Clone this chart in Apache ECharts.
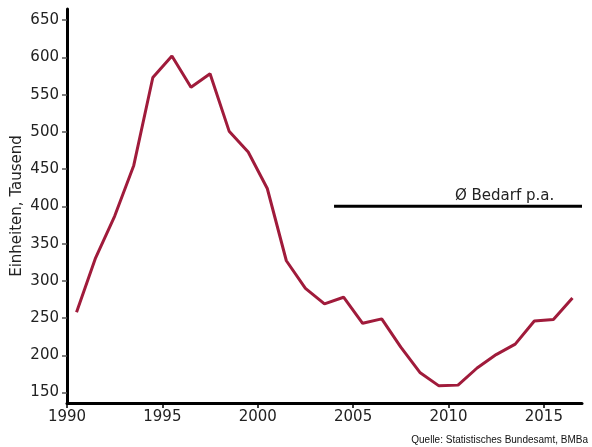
<!DOCTYPE html>
<html>
<head>
<meta charset="utf-8">
<script src="https://cdn.jsdelivr.net/npm/echarts@6/dist/echarts.min.js"></script>
<style>
  html, body { margin: 0; padding: 0; background: #fff; }
  #chart { width: 592px; height: 447px; }
</style>
</head>
<body>
<div id="chart"></div>
<script>
// Wohnungsbau: Fertigstellungen vs. Bedarf
var years = [1990, 1991, 1992, 1993, 1994, 1995, 1996, 1997, 1998, 1999,
             2000, 2001, 2002, 2003, 2004, 2005, 2006, 2007, 2008, 2009,
             2010, 2011, 2012, 2013, 2014, 2015, 2016];
var einheiten = [258, 331, 387, 455, 573, 602, 560, 578, 501, 473,
                 424, 327, 290, 269, 278, 243, 249, 211, 177, 159,
                 160, 183, 201, 215, 246, 248, 277];
var bedarfVon = 2004;
var bedarfBis = 2017;
var bedarfWert = 400;
var yTicks = [150, 200, 250, 300, 350, 400, 450, 500, 550, 600, 650];
var xTicks = [1990, 1995, 2000, 2005, 2010, 2015];

var font = 'DejaVu Sans';

// Werte jeweils zur Jahresmitte
var lineData = years.map(function (y, i) { return [y + 0.5, einheiten[i]]; });

var dom = document.getElementById('chart');
var myChart = echarts.init(dom);
var option = {
    animation: false,
    grid: { left: 67, right: 10, top: 9, bottom: 44, outerBoundsMode: 'none' },
    xAxis: {
        type: 'value',
        min: 1990,
        max: 2017,
        splitLine: { show: false },
        axisLine: { lineStyle: { color: '#000', width: 3 } },
        axisTick: { customValues: xTicks, length: 5, lineStyle: { color: '#000', width: 1.5 } },
        axisLabel: {
            customValues: xTicks,
            formatter: function (v) { return String(v); },
            color: '#222', fontFamily: font, fontSize: 15, margin: 7
        }
    },
    yAxis: {
        type: 'value',
        min: 136,
        max: 665,
        name: 'Einheiten, Tausend',
        nameLocation: 'middle',
        nameGap: 42,
        nameMoveOverlap: false,
        nameTextStyle: { color: '#222', fontFamily: font, fontSize: 15 },
        splitLine: { show: false },
        axisLine: { lineStyle: { color: '#000', width: 3 } },
        axisTick: { customValues: yTicks, length: 5, lineStyle: { color: '#555', width: 1.5 } },
        axisLabel: {
            customValues: yTicks,
            color: '#222', fontFamily: font, fontSize: 15, margin: 8
        }
    },
    series: [
        {
            name: 'Einheiten',
            type: 'line',
            data: lineData,
            symbol: 'none',
            lineStyle: { color: '#a01b3b', width: 3 },
            z: 3
        },
        {
            name: 'Bedarf',
            type: 'line',
            data: [[bedarfVon, bedarfWert], [bedarfBis, bedarfWert]],
            symbol: 'none',
            lineStyle: { color: '#000', width: 3 },
            label: { show: false },
            endLabel: {
                show: true,
                formatter: 'Ø Bedarf p.a.',
                color: '#222',
                fontFamily: font,
                fontSize: 15,
                offset: [-135, -10]
            },
            z: 2
        }
    ],
    graphic: [
        {
            type: 'text',
            right: 4,
            bottom: 2,
            style: {
                text: 'Quelle: Statistisches Bundesamt, BMBa',
                fill: '#111',
                font: '10px "Liberation Sans", Arial, sans-serif'
            }
        }
    ]
};
if (option && typeof option === "object") {
    myChart.setOption(option, true);
}
</script>
</body>
</html>
